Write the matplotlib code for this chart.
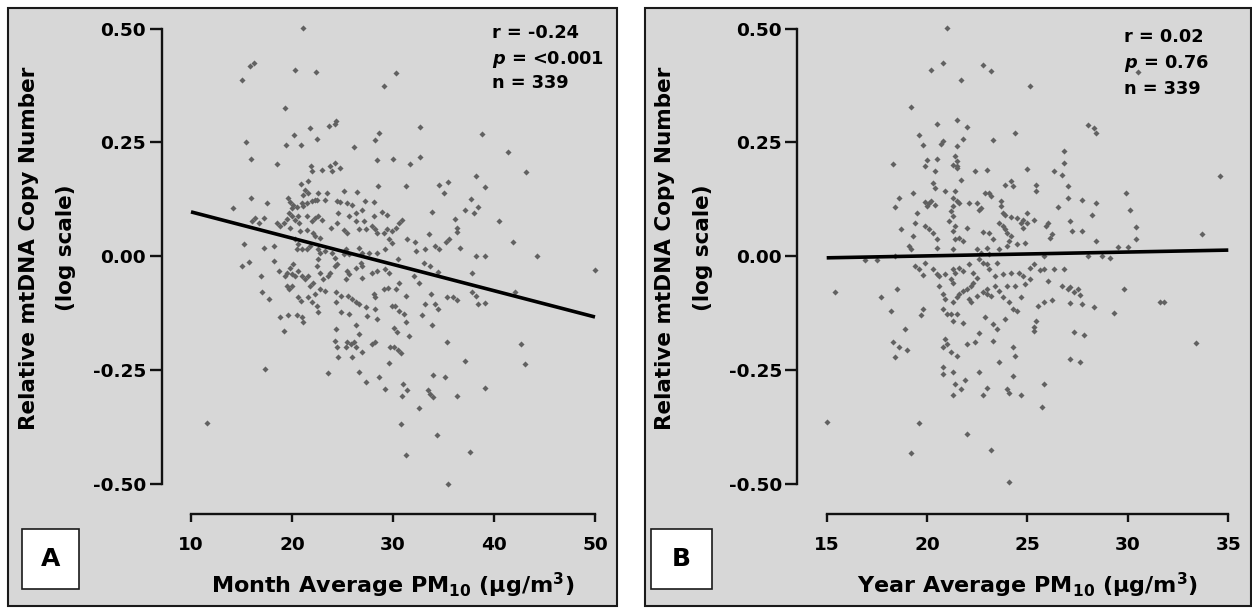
import matplotlib
matplotlib.use("Agg")
import matplotlib.pyplot as plt
from matplotlib.patches import Rectangle
import numpy as np

plt.rcParams['font.family'] = ['DejaVu Sans']
plt.rcParams['font.weight'] = 'bold'
plt.rcParams['mathtext.fontset'] = 'custom'
plt.rcParams['mathtext.rm'] = 'DejaVu Sans:bold'
plt.rcParams['mathtext.bf'] = 'DejaVu Sans:bold'
plt.rcParams['mathtext.it'] = 'DejaVu Sans:italic:bold'
plt.rcParams['mathtext.sf'] = 'DejaVu Sans:bold'
plt.rcParams['mathtext.default'] = 'regular'

# ---------------- data: panel A (month average PM10) ----------------
month_pm10 = [
    21.1, 16.2, 15.8, 15.0, 20.3, 22.4, 29.1, 19.3, 24.4, 24.3, 23.7, 21.8, 28.6, 28.2, 20.2, 22.5,
    15.4, 19.4, 20.9, 26.1, 15.9, 18.5, 28.4, 21.9, 22.0, 23.0, 23.8, 24.0, 24.3, 24.8, 28.5, 20.9,
    21.6, 21.3, 21.6, 21.1, 22.6, 22.5, 23.5, 23.3, 25.1, 26.4, 15.9, 14.2, 17.5, 19.6, 19.8, 20.1,
    20.5, 20.0, 21.0, 21.1, 21.5, 22.0, 22.3, 24.5, 24.8, 25.4, 25.9, 27.2, 28.1, 24.6, 25.6, 26.3,
    26.9, 28.1, 28.9, 29.4, 16.3, 16.0, 17.2, 16.7, 18.5, 18.8, 19.2, 19.5, 19.7, 20.0, 20.3, 20.6,
    20.7, 21.5, 22.0, 22.3, 22.6, 23.0, 23.9, 24.5, 25.1, 25.4, 26.3, 26.6, 27.1, 27.3, 27.9, 28.2,
    28.4, 29.1, 29.4, 29.9, 20.8, 21.5, 22.1, 22.3, 22.8, 19.8, 15.2, 17.2, 18.2, 20.3, 20.6, 21.0,
    20.5, 21.5, 21.8, 22.6, 22.8, 23.3, 24.0, 24.3, 25.3, 25.1, 25.6, 26.6, 26.9, 27.6, 28.4, 29.2,
    29.6, 29.9, 15.0, 15.7, 16.9, 18.2, 18.7, 19.3, 19.5, 19.8, 20.1, 20.0, 20.3, 20.6, 21.0, 21.3,
    21.6, 21.8, 22.1, 22.6, 22.5, 22.8, 23.1, 23.6, 23.8, 24.3, 24.5, 25.4, 25.6, 25.3, 26.3, 26.8,
    26.9, 26.9, 27.9, 28.4, 29.2, 29.6, 19.5, 19.7, 20.0, 17.0, 17.7, 20.6, 20.9, 21.6, 22.3, 22.8,
    23.3, 22.0, 22.5, 22.6, 24.4, 24.9, 25.5, 25.9, 26.3, 26.6, 24.4, 28.1, 28.2, 29.1, 29.5, 27.3,
    28.2, 29.9, 24.9, 25.6, 27.4, 28.4, 18.8, 19.6, 20.5, 21.0, 21.1, 19.2, 24.4, 26.3, 26.6, 24.3,
    24.5, 25.4, 25.8, 26.1, 26.3, 25.3, 26.9, 27.9, 28.2, 29.7, 24.6, 25.9, 29.6, 17.3, 23.6, 26.6,
    27.3, 28.6, 29.2, 11.6,
    30.3, 32.7, 38.8, 41.4, 30.0, 31.7, 32.7, 43.2, 31.3, 38.2, 39.1, 34.6, 35.4, 35.0, 37.7, 33.9,
    37.1, 38.0, 38.4, 40.5, 36.1, 36.3, 36.3, 30.6, 30.9, 30.3, 31.4, 32.2, 33.2, 33.6, 34.2, 34.6,
    35.2, 35.5, 36.6, 41.9, 30.5, 32.3, 33.1, 33.7, 34.5, 37.8, 38.2, 39.1, 44.3, 50.0, 30.6, 30.3,
    31.3, 32.1, 32.6, 33.8, 33.2, 34.2, 34.5, 35.3, 35.9, 36.3, 37.8, 38.2, 38.4, 39.1, 42.1, 30.2,
    30.6, 31.1, 31.3, 32.9, 33.9, 30.1, 30.4, 31.6, 35.3, 42.7, 43.1, 30.1, 30.5, 30.8, 37.1, 34.0,
    35.1, 39.1, 31.0, 31.4, 30.9, 33.5, 33.7, 34.0, 36.3, 32.6, 30.8, 34.4, 37.6, 31.3, 35.4,
]
month_mtdna = [
    0.501, 0.424, 0.418, 0.386, 0.408, 0.405, 0.373, 0.326, 0.296, 0.291, 0.285, 0.282, 0.271, 0.256, 0.266, 0.258,
    0.251, 0.245, 0.245, 0.240, 0.214, 0.203, 0.210, 0.198, 0.187, 0.190, 0.198, 0.187, 0.205, 0.194, 0.154, 0.159,
    0.165, 0.146, 0.139, 0.135, 0.139, 0.124, 0.139, 0.124, 0.143, 0.140, 0.127, 0.105, 0.116, 0.127, 0.118, 0.113,
    0.107, 0.106, 0.117, 0.111, 0.117, 0.121, 0.124, 0.121, 0.118, 0.117, 0.112, 0.121, 0.118, 0.095, 0.088, 0.095,
    0.102, 0.088, 0.097, 0.091, 0.083, 0.077, 0.084, 0.073, 0.072, 0.066, 0.073, 0.082, 0.095, 0.088, 0.080, 0.088,
    0.073, 0.088, 0.077, 0.084, 0.088, 0.080, 0.062, 0.073, 0.057, 0.051, 0.077, 0.059, 0.077, 0.059, 0.066, 0.059,
    0.051, 0.051, 0.059, 0.055, 0.055, 0.057, 0.051, 0.044, 0.040, 0.062, 0.026, 0.017, 0.022, 0.037, 0.026, 0.015,
    0.015, 0.015, 0.022, 0.015, 0.007, 0.011, 0.007, -0.004, 0.015, 0.004, 0.004, 0.018, 0.007, 0.007, 0.007, 0.015,
    0.037, 0.029, -0.022, -0.013, -0.044, -0.011, -0.033, -0.044, -0.037, -0.026, -0.018, -0.040, -0.044, -0.033, -0.044, -0.051,
    -0.044, -0.066, -0.059, -0.007, -0.022, -0.037, -0.051, -0.044, -0.037, -0.022, -0.018, -0.033, -0.040, -0.051, -0.026, -0.015,
    -0.022, -0.048, -0.037, -0.033, -0.029, -0.037, -0.066, -0.073, -0.066, -0.080, -0.094, -0.091, -0.099, -0.091, -0.084, -0.073,
    -0.077, -0.102, -0.110, -0.123, -0.080, -0.088, -0.088, -0.095, -0.102, -0.106, -0.102, -0.084, -0.091, -0.073, -0.070, -0.113,
    -0.117, -0.110, -0.124, -0.128, -0.132, -0.139, -0.135, -0.130, -0.130, -0.135, -0.146, -0.165, -0.161, -0.152, -0.172, -0.187,
    -0.201, -0.190, -0.194, -0.190, -0.201, -0.201, -0.210, -0.194, -0.189, -0.201, -0.223, -0.223, -0.236, -0.249, -0.257, -0.256,
    -0.276, -0.267, -0.293, -0.366,
    0.402, 0.284, 0.269, 0.229, 0.214, 0.203, 0.217, 0.184, 0.154, 0.176, 0.151, 0.155, 0.163, 0.138, 0.126, 0.097,
    0.101, 0.094, 0.108, 0.077, 0.082, 0.062, 0.053, 0.073, 0.080, 0.062, 0.038, 0.031, 0.016, 0.048, 0.023, 0.016,
    0.031, 0.037, 0.018, 0.031, -0.006, 0.011, -0.015, -0.022, -0.035, -0.038, -0.001, -0.001, -0.001, -0.031, -0.059, -0.072,
    -0.088, -0.045, -0.059, -0.084, -0.106, -0.106, -0.116, -0.091, -0.090, -0.097, -0.080, -0.088, -0.106, -0.104, -0.079, -0.110,
    -0.121, -0.128, -0.146, -0.130, -0.152, -0.159, -0.168, -0.176, -0.190, -0.194, -0.238, -0.201, -0.206, -0.214, -0.230, -0.262,
    -0.265, -0.289, -0.282, -0.294, -0.307, -0.294, -0.304, -0.309, -0.307, -0.335, -0.369, -0.394, -0.430, -0.437, -0.501,
]
month_fit_x = [10, 50]
month_fit_y = [0.097, -0.134]

# ---------------- data: panel B (year average PM10) ----------------
year_pm10 = [
    21.0, 20.8, 20.2, 22.8, 23.2, 21.7, 19.2, 20.5, 21.5, 22.0, 24.4, 19.6, 19.8, 20.7, 20.8, 21.8,
    21.5, 23.3, 18.3, 20.0, 19.9, 20.5, 20.4, 21.4, 21.5, 21.3, 21.5, 21.5, 22.4, 23.0, 20.3, 20.4,
    20.9, 21.7, 21.4, 19.3, 18.6, 18.4, 19.9, 20.1, 20.2, 20.4, 20.0, 21.3, 21.5, 21.6, 22.1, 21.3,
    21.2, 22.5, 22.7, 22.6, 22.9, 23.1, 23.2, 23.9, 24.2, 24.3, 23.7, 23.7, 19.5, 19.4, 18.7, 19.9,
    20.1, 20.3, 20.5, 19.3, 19.1, 19.2, 20.5, 21.3, 21.1, 21.4, 21.3, 22.0, 21.6, 21.8, 21.4, 21.3,
    22.8, 23.1, 23.3, 23.8, 23.9, 24.2, 24.5, 24.8, 23.6, 23.8, 23.9, 24.0, 24.2, 24.1, 24.7, 24.8,
    22.5, 22.7, 23.0, 23.1, 23.6, 24.0, 24.5, 24.9, 16.9, 17.5, 18.4, 19.4, 19.6, 19.8, 19.9, 20.3,
    20.5, 20.6, 20.9, 21.3, 21.4, 21.6, 21.8, 21.2, 21.3, 22.1, 22.3, 22.5, 22.3, 22.6, 22.8, 23.0,
    23.1, 23.5, 23.4, 23.8, 24.2, 24.6, 24.8, 20.6, 20.8, 20.9, 20.8, 21.0, 21.2, 21.5, 21.3, 21.5,
    21.6, 21.8, 22.0, 22.2, 22.1, 22.2, 22.5, 22.8, 23.0, 23.0, 23.2, 23.4, 23.6, 23.8, 24.0, 24.4,
    24.1, 24.3, 24.5, 24.7, 21.8, 21.3, 22.9, 23.3, 23.5, 23.9, 18.5, 17.7, 15.4, 18.2, 18.9, 19.8,
    19.7, 18.3, 18.6, 19.0, 18.4, 20.9, 21.0, 20.8, 21.2, 21.5, 22.0, 22.4, 22.6, 23.3, 24.3, 24.4,
    20.8, 20.8, 21.3, 21.9, 21.7, 21.3, 21.4, 22.6, 23.6, 24.3, 23.0, 22.8, 24.0, 24.1, 24.7, 15.0,
    19.6, 22.0, 19.2, 23.2, 24.1,
    25.1, 30.5, 28.0, 28.3, 28.4, 26.8, 26.8, 25.0, 26.3, 26.7, 25.4, 25.4, 27.0, 27.0, 27.7, 28.4,
    29.9, 30.1, 34.6, 26.5, 28.2, 25.0, 25.3, 25.0, 25.9, 26.0, 26.2, 26.1, 27.1, 27.2, 27.7, 28.4,
    30.4, 30.4, 33.7, 29.5, 30.0, 28.0, 28.7, 29.1, 25.8, 25.3, 25.1, 25.6, 25.8, 26.3, 26.8, 24.9,
    25.1, 26.0, 26.7, 27.0, 27.1, 27.3, 27.5, 27.6, 29.8, 27.1, 27.7, 28.3, 25.8, 25.5, 26.2, 31.6,
    31.8, 29.3, 25.4, 25.3, 25.3, 27.3, 27.8, 33.4, 27.1, 27.6, 25.8, 25.7,
]
year_mtdna = [
    0.501, 0.424, 0.408, 0.419, 0.406, 0.386, 0.327, 0.291, 0.298, 0.284, 0.271, 0.267, 0.245, 0.247, 0.252, 0.258,
    0.241, 0.256, 0.203, 0.212, 0.198, 0.214, 0.187, 0.219, 0.208, 0.201, 0.198, 0.194, 0.187, 0.190, 0.161, 0.150,
    0.143, 0.167, 0.143, 0.139, 0.127, 0.108, 0.118, 0.116, 0.121, 0.113, 0.110, 0.127, 0.121, 0.117, 0.117, 0.110,
    0.099, 0.117, 0.106, 0.101, 0.138, 0.139, 0.132, 0.155, 0.165, 0.154, 0.121, 0.110, 0.095, 0.073, 0.060, 0.066,
    0.059, 0.051, 0.037, 0.044, 0.022, 0.015, 0.018, 0.088, 0.077, 0.066, 0.055, 0.062, 0.040, 0.033, 0.037, 0.015,
    0.053, 0.051, 0.037, 0.095, 0.091, 0.086, 0.084, 0.080, 0.073, 0.067, 0.060, 0.051, 0.044, 0.033, 0.073, 0.062,
    0.015, 0.007, 0.018, 0.004, 0.015, 0.022, 0.026, 0.029, -0.009, -0.009, -0.001, -0.022, -0.028, -0.042, -0.015, -0.029,
    -0.040, -0.044, -0.040, -0.028, -0.037, -0.026, -0.033, -0.051, -0.059, -0.018, -0.037, -0.048, -0.059, -0.007, -0.015, -0.018,
    -0.029, -0.015, -0.044, -0.040, -0.037, -0.037, -0.044, -0.066, -0.084, -0.095, -0.117, -0.128, -0.128, -0.128, -0.102, -0.091,
    -0.084, -0.077, -0.073, -0.066, -0.095, -0.102, -0.088, -0.080, -0.073, -0.084, -0.088, -0.066, -0.077, -0.091, -0.066, -0.066,
    -0.102, -0.116, -0.121, -0.091, -0.148, -0.143, -0.134, -0.150, -0.161, -0.138, -0.073, -0.091, -0.080, -0.121, -0.161, -0.117,
    -0.130, -0.189, -0.201, -0.207, -0.221, -0.183, -0.194, -0.201, -0.212, -0.219, -0.194, -0.189, -0.170, -0.187, -0.201, -0.219,
    -0.245, -0.260, -0.255, -0.273, -0.293, -0.306, -0.282, -0.255, -0.233, -0.263, -0.289, -0.306, -0.293, -0.300, -0.306, -0.364,
    -0.366, -0.391, -0.434, -0.426, -0.497,
    0.373, 0.404, 0.287, 0.282, 0.271, 0.230, 0.205, 0.192, 0.187, 0.177, 0.157, 0.143, 0.154, 0.128, 0.124, 0.116,
    0.139, 0.102, 0.176, 0.108, 0.091, 0.094, 0.080, 0.072, 0.066, 0.073, 0.048, 0.040, 0.078, 0.056, 0.056, 0.033,
    0.064, 0.037, 0.049, 0.020, 0.020, -0.001, 0.000, -0.004, 0.000, -0.017, -0.026, -0.031, -0.029, -0.029, -0.028, -0.062,
    -0.050, -0.055, -0.066, -0.072, -0.068, -0.079, -0.072, -0.086, -0.073, -0.104, -0.106, -0.111, -0.102, -0.110, -0.097, -0.102,
    -0.102, -0.126, -0.143, -0.157, -0.165, -0.167, -0.174, -0.192, -0.227, -0.234, -0.282, -0.331,
]
year_fit_x = [15, 35]
year_fit_y = [-0.004, 0.013]

y_ticks = [0.50, 0.25, 0.00, -0.25, -0.50]
y_tick_labels = ['0.50', '0.25', '0.00', '-0.25', '-0.50']
month_ticks = [10, 20, 30, 40, 50]
year_ticks = [15, 20, 25, 30, 35]

W, H = 1252, 608
fig = plt.figure(figsize=(W / 100, H / 100), dpi=100)
fig.patch.set_facecolor('white')

def fx(px):
    return px / W

def fy(py):
    return 1 - py / H

PANEL = '#d7d7d7'
MARK = '#616161'

# panel frames (drawn beneath the axes)
for x0, x1 in [(7.5, 616.5), (645.0, 1250.5)]:
    fig.patches.append(Rectangle((fx(x0), fy(605.5)), fx(x1) - fx(x0), fy(8) - fy(605.5),
                                 transform=fig.transFigure, facecolor=PANEL,
                                 edgecolor='#1a1a1a', linewidth=1.5, zorder=-5))

def make_axes(left_px, right_px, xlim, xticks, xs, ys, fitx, fity):
    ax = fig.add_axes([fx(left_px), fy(513.5), fx(right_px) - fx(left_px), fy(20) - fy(513.5)])
    ax.set_zorder(1)
    ax.set_facecolor('none')
    ax.plot(xs, ys, linestyle='none', marker='D', markersize=3.1, color=MARK,
            markeredgewidth=0, zorder=2, clip_on=False)
    ax.plot(fitx, fity, color='black', linewidth=2.6, solid_capstyle='butt', zorder=3)
    ax.set_xlim(*xlim)
    ax.set_ylim(-0.5659, 0.5187)
    for s in ['top', 'right']:
        ax.spines[s].set_visible(False)
    for s in ['left', 'bottom']:
        ax.spines[s].set_linewidth(1.7)
        ax.spines[s].set_color('#111111')
    ax.spines['left'].set_bounds(-0.5, 0.5)
    ax.spines['bottom'].set_bounds(xticks[0], xticks[-1])
    ax.set_yticks(y_ticks, y_tick_labels)
    ax.set_xticks(xticks, [str(t) for t in xticks])
    ax.tick_params(axis='y', direction='out', length=8.5, width=1.7, pad=2.5,
                   labelsize=13.3, color='#111111')
    ax.tick_params(axis='x', direction='out', length=6, width=1.7, pad=10,
                   labelsize=13.3, color='#111111')
    for lab in ax.get_xticklabels() + ax.get_yticklabels():
        lab.set_fontweight('bold')
    return ax

axA = make_axes(161.5, 600.0, (7.079, 50.495), month_ticks, month_pm10, month_mtdna,
                month_fit_x, month_fit_y)
axB = make_axes(797.3, 1238.0, (13.536, 35.483), year_ticks, year_pm10, year_mtdna,
                year_fit_x, year_fit_y)

# y labels
for cx1, cx2 in [(29, 66), (665, 703)]:
    fig.text(fx(cx1), fy(248), 'Relative mtDNA Copy Number', rotation=90, ha='center',
             va='center', fontsize=15.5, fontweight='bold')
    fig.text(fx(cx2), fy(248), '(log scale)', rotation=90, ha='center',
             va='center', fontsize=15.5, fontweight='bold')

# x labels
fig.text(fx(393), fy(593), 'Month Average PM$_{10}$ (µg/m$^{3}$)', ha='center',
         va='baseline', fontsize=16, fontweight='bold')
fig.text(fx(1028), fy(593), 'Year Average PM$_{10}$ (µg/m$^{3}$)', ha='center',
         va='baseline', fontsize=16, fontweight='bold')

# stats annotations
statsA = ['r = -0.24', '$\\mathit{p}$ = <0.001', 'n = 339']
statsB = ['r = 0.02', '$\\mathit{p}$ = 0.76', 'n = 339']
for txt, by in zip(statsA, [38.3, 64, 88.3]):
    fig.text(fx(492), fy(by), txt, ha='left', va='baseline', fontsize=12.8, fontweight='bold')
for txt, by in zip(statsB, [42.5, 68, 94]):
    fig.text(fx(1124), fy(by), txt, ha='left', va='baseline', fontsize=12.8, fontweight='bold')

# panel letter boxes
for (x0, x1), letter in [((21.7, 78.7), 'A'), ((651.0, 712.0), 'B')]:
    fig.patches.append(Rectangle((fx(x0), fy(588.5)), fx(x1) - fx(x0), fy(529) - fy(588.5),
                                 transform=fig.transFigure, facecolor='white',
                                 edgecolor='#1a1a1a', linewidth=1.2, zorder=2))
    fig.text(fx((x0 + x1) / 2), fy(559), letter, ha='center', va='center',
             fontsize=18, fontweight='bold', zorder=3)

fig.savefig('out.png', dpi=100, facecolor='white')
